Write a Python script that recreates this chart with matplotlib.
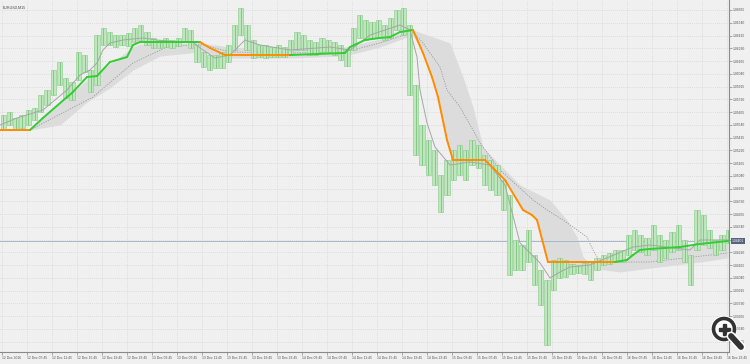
import matplotlib
matplotlib.use('Agg')
import numpy as np
import matplotlib.pyplot as plt
from matplotlib.patches import Circle, Rectangle

# hourly bars, hours counted from 12 Dec 2016 00:00
bar_hour = np.arange(4, 121)
bar_high = [1.05636, 1.05665, 1.05607, 1.05636, 1.05685, 1.05705, 1.05832, 1.05881, 1.06077, 1.06155,
            1.05999, 1.05959, 1.06253, 1.06224, 1.06077, 1.06420, 1.06489, 1.06449, 1.06420, 1.06420,
            1.06440, 1.06489, 1.06518, 1.06449, 1.06391, 1.06371, 1.06391, 1.06371, 1.06391, 1.06489,
            1.06469, 1.06322, 1.06253, 1.06224, 1.06224, 1.06253, 1.06322, 1.06518, 1.06685, 1.06518,
            1.06371, 1.06322, 1.06322, 1.06302, 1.06322, 1.06302, 1.06371, 1.06449, 1.06420, 1.06371,
            1.06351, 1.06391, 1.06371, 1.06351, 1.06322, 1.06273, 1.06489, 1.06616, 1.06567, 1.06547,
            1.06567, 1.06518, 1.06587, 1.06665, 1.06685, 1.06518, 1.05930, 1.05538, 1.05391, 1.05293,
            1.05048, 1.05195, 1.05293, 1.05342, 1.05293, 1.05391, 1.05342, 1.05244, 1.05195, 1.05146,
            1.04999, 1.04852, 1.04411, 1.04362, 1.04509, 1.04264, 1.04117, 1.04019, 1.04215, 1.04235,
            1.04215, 1.04176, 1.04166, 1.04186, 1.04195, 1.04235, 1.04264, 1.04284, 1.04313, 1.04313,
            1.04460, 1.04509, 1.04460, 1.04431, 1.04558, 1.04460, 1.04411, 1.04489, 1.04558, 1.04411,
            1.04264, 1.04705, 1.04656, 1.04509, 1.04411, 1.04460, 1.04509]
bar_low = [1.05489, 1.05538, 1.05489, 1.05509, 1.05538, 1.05587, 1.05665, 1.05734, 1.05832, 1.05930,
           1.05803, 1.05783, 1.05979, 1.06057, 1.05861, 1.05930, 1.06322, 1.06322, 1.06302, 1.06322,
           1.06312, 1.06351, 1.06371, 1.06322, 1.06293, 1.06293, 1.06302, 1.06293, 1.06312, 1.06351,
           1.06293, 1.06155, 1.06106, 1.06077, 1.06097, 1.06097, 1.06155, 1.06273, 1.06420, 1.06273,
           1.06195, 1.06204, 1.06195, 1.06204, 1.06204, 1.06204, 1.06224, 1.06273, 1.06273, 1.06224,
           1.06224, 1.06253, 1.06253, 1.06224, 1.06175, 1.06116, 1.06273, 1.06391, 1.06371, 1.06391,
           1.06400, 1.06371, 1.06391, 1.06469, 1.06420, 1.05832, 1.05244, 1.05146, 1.05048, 1.04950,
           1.04685, 1.04852, 1.04999, 1.05048, 1.04999, 1.05146, 1.05117, 1.04950, 1.04901, 1.04852,
           1.04705, 1.04068, 1.04117, 1.04117, 1.04195, 1.03970, 1.03774, 1.03382, 1.03921, 1.04039,
           1.04048, 1.04078, 1.04088, 1.04078, 1.04019, 1.04117, 1.04166, 1.04176, 1.04195, 1.04195,
           1.04264, 1.04313, 1.04293, 1.04264, 1.04313, 1.04195, 1.04235, 1.04293, 1.04313, 1.04195,
           1.03970, 1.04313, 1.04362, 1.04333, 1.04264, 1.04313, 1.04381]

# thick coloured MA
ma_hour = [3.48, 8.28, 10.36, 14.2, 15.0, 17.4, 19.0, 21.08, 23.8, 24.76, 25.88, 35.48, 37.08, 39.48,
           49.88, 58.68, 59.48, 61.88, 64.28, 65.88, 67.48, 69.56, 71.16, 72.6, 73.56, 75.0, 75.96,
           81.08, 82.68, 84.28, 86.2, 87.16, 88.6, 89.4, 91.16, 101.88, 103.8, 104.76, 105.88, 107.48,
           112.28, 115.48, 119.96]
ma_price = [1.05489, 1.05489, 1.05607, 1.05812, 1.05852, 1.06008, 1.06018, 1.06155, 1.06204, 1.06322,
            1.06351, 1.06351, 1.06293, 1.06224, 1.06224, 1.06244, 1.06302, 1.06371, 1.06391, 1.06400,
            1.06449, 1.06469, 1.06244, 1.06008, 1.05812, 1.05391, 1.05195, 1.05195, 1.05097, 1.04999,
            1.04803, 1.04705, 1.04656, 1.04607, 1.04195, 1.04195, 1.04215, 1.04264, 1.04313, 1.04323,
            1.04342, 1.04372, 1.04401]

# thin grey fast MA
fast_hour = [3.48, 6.2, 10.36, 14.2, 16.28, 17.88, 19.0, 19.96, 21.08, 23.16, 26.36, 28.6, 32.28, 34.36,
             35.48, 37.88, 40.28, 42.68, 45.08, 49.88, 56.28, 59.48, 62.68, 67.48, 69.08, 70.2, 70.68,
             71.8, 73.08, 75.48, 78.68, 81.88, 84.28, 86.68, 87.8, 89.88, 91.48, 93.08, 94.68, 97.88,
             104.76, 107.48, 113.88, 115.48, 119.96]
fast_price = [1.05538, 1.05607, 1.05685, 1.05881, 1.06028, 1.06077, 1.06146, 1.06273, 1.06342, 1.06371,
              1.06391, 1.06371, 1.06351, 1.06351, 1.06293, 1.06195, 1.06224, 1.06371, 1.06322, 1.06273,
              1.06302, 1.06273, 1.06420, 1.06518, 1.06469, 1.06204, 1.05881, 1.05558, 1.05322, 1.05146,
              1.05175, 1.05146, 1.04950, 1.04382, 1.04313, 1.04186, 1.04039, 1.04097, 1.04146, 1.04166,
              1.04342, 1.04362, 1.04313, 1.04411, 1.04411]

# dotted slow line
slow_hour = [8.28, 18.36, 24.76, 30.2, 35.48, 40.28, 49.88, 58.68, 64.28, 69.56, 71.16, 73.88, 75.0,
             77.08, 79.16, 80.28, 83.48, 88.76, 91.0, 93.56, 95.16, 97.4, 98.36, 99.48, 107.48, 119.96]
slow_price = [1.05489, 1.05812, 1.06146, 1.06302, 1.06332, 1.06253, 1.06244, 1.06253, 1.06342, 1.06449,
              1.06342, 1.06106, 1.05881, 1.05714, 1.05489, 1.05362, 1.05097, 1.04803, 1.04705, 1.04607,
              1.04538, 1.04440, 1.04313, 1.04195, 1.04195, 1.04284]

# shaded band edges
band_a_hour = [8.28, 10.36, 14.2, 17.4, 21.08, 24.76, 25.88, 35.48, 40.28, 49.88, 58.68, 64.28, 69.56,
               75.48, 77.56, 79.16, 80.76, 83.48, 86.68, 91.48, 94.2, 95.8, 96.76, 97.88, 102.68,
               105.88, 107.48, 115.48, 119.96]
band_a_price = [1.05509, 1.05626, 1.05812, 1.05979, 1.06136, 1.06302, 1.06332, 1.06342, 1.06302, 1.06283,
                1.06302, 1.06381, 1.06469, 1.06342, 1.06008, 1.05714, 1.05322, 1.05146, 1.04950, 1.04803,
                1.04607, 1.04440, 1.04244, 1.04186, 1.04215, 1.04303, 1.04313, 1.04352, 1.04382]
band_b_hour = [8.28, 13.08, 17.4, 21.08, 24.76, 29.08, 35.48, 40.28, 49.88, 58.68, 64.28, 69.56, 71.16,
               72.6, 73.56, 75.0, 75.96, 81.08, 82.68, 84.28, 86.2, 87.16, 89.4, 91.16, 97.88, 102.68,
               107.48, 115.48, 119.96]
band_b_price = [1.05489, 1.05538, 1.05763, 1.05901, 1.06077, 1.06214, 1.06253, 1.06195, 1.06195, 1.06214,
                1.06302, 1.06420, 1.06244, 1.06008, 1.05812, 1.05391, 1.05195, 1.05195, 1.05097, 1.04999,
                1.04803, 1.04705, 1.04607, 1.04195, 1.04136, 1.04097, 1.04136, 1.04195, 1.04235]

last_price = 1.04401
price_ticks = np.round(1.03415 + 0.00125 * np.arange(27), 5)
time_ticks = 3.75 + 4 * np.arange(30)

BG = '#f0f0f0'
fig = plt.figure(figsize=(7.5, 3.64), dpi=100, facecolor=BG)
ax = fig.add_axes([0.0, 12 / 364, 729 / 750, 352 / 364], facecolor=BG)
ax.set_xlim(3.48, 120.12)
ax.set_ylim(1.03313, 1.06763)

# grid
for t in time_ticks:
    ax.axvline(t, color='#cbcbcb', lw=0.5, ls=(0, (1, 2)), zorder=0)
for p in price_ticks:
    ax.axhline(p, color='#cbcbcb', lw=0.5, ls=(0, (1, 2)), zorder=0)

# band
grid_h = np.linspace(8.28, 119.96, 1500)
ax.fill_between(grid_h, np.interp(grid_h, band_a_hour, band_a_price),
                np.interp(grid_h, band_b_hour, band_b_price), color='#dcdcdc', lw=0, zorder=1)
ax.plot(slow_hour, slow_price, color='#9a9a9a', lw=0.6, ls=(0, (1.5, 1.5)), zorder=2)

# bars: light bodies with darker green strokes
hi = np.array(bar_high)
lo = np.array(bar_low)
ax.bar(bar_hour, hi - lo, bottom=lo, width=0.82, color='#bfe6bf', edgecolor='#86cb86',
       linewidth=0.4, zorder=3)
ax.vlines(bar_hour, lo, hi, color='#7cc47c', lw=0.6, zorder=3)

ax.plot(fast_hour, fast_price, color='#a6a6a6', lw=0.7, zorder=4)

# coloured MA: orange when falling, green otherwise
col = '#ff8c00'
for i in range(len(ma_hour) - 1):
    d = ma_price[i + 1] - ma_price[i]
    if d > 0:
        col = '#33cc33'
    elif d < 0:
        col = '#ff8c00'
    ax.plot(ma_hour[i:i + 2], ma_price[i:i + 2], color=col, lw=1.4,
            solid_capstyle='round', zorder=5)

ax.axhline(last_price, color='#a9b6c9', lw=0.7, zorder=2)

# axes styling
for s in ['top', 'left']:
    ax.spines[s].set_visible(False)
ax.spines['right'].set_color('#8a8a8a')
ax.spines['bottom'].set_color('#8a8a8a')
ax.spines['right'].set_linewidth(0.8)
ax.spines['bottom'].set_linewidth(0.8)

ax.yaxis.tick_right()
ax.set_yticks(price_ticks)
ax.set_yticklabels(['%.5f' % p for p in price_ticks])
ax.set_xticks(time_ticks)
xl = []
for k, t in enumerate(time_ticks):
    day = 12 + int(t // 24)
    hh = int(t % 24)
    mm = int(round((t % 1) * 60))
    xl.append('12 Dec 2016' if k == 0 else '%d Dec %02d:%02d' % (day, hh, mm))
ax.set_xticklabels(xl, ha='left')
ax.tick_params(axis='both', colors='#8a8a8a', labelcolor='#555555', labelsize=2.4,
               length=2, width=0.5, pad=1)
for lab in ax.get_xticklabels() + ax.get_yticklabels():
    lab.set_family('Liberation Sans')

ax.annotate('%.5f' % last_price, xy=(1.0, last_price), xycoords=('axes fraction', 'data'),
            xytext=(2, 0), textcoords='offset points', va='center', ha='left',
            fontsize=2.4, color='white', family='Liberation Sans',
            bbox=dict(boxstyle='square,pad=0.25', fc='#55657d', ec='none'))

ax.text(0.004, 0.985, 'EURUSD,M15', transform=ax.transAxes, fontsize=2.6, color='#444444',
        va='top', ha='left', family='Liberation Sans')

# zoom icon overlay
ic = fig.add_axes([700 / 750, 0, 50 / 750, 50 / 364])
ic.set_xlim(0, 50)
ic.set_ylim(50, 0)
ic.set_aspect('equal')
ic.axis('off')
ic.plot([31, 41], [22, 33], color='white', lw=6.5, solid_capstyle='round')
ic.add_patch(Circle((24, 15), 12.5, color='white'))
ic.plot([31, 41], [22, 33], color='#333333', lw=4.2, solid_capstyle='round')
ic.add_patch(Circle((24, 15), 10.5, fc='white', ec='#333333', lw=2.6))
ic.add_patch(Rectangle((18.5, 13.5), 11, 3, color='#333333'))
ic.add_patch(Rectangle((22.5, 9.5), 3, 11, color='#333333'))

fig.savefig('out.png', dpi=100, facecolor=BG)
